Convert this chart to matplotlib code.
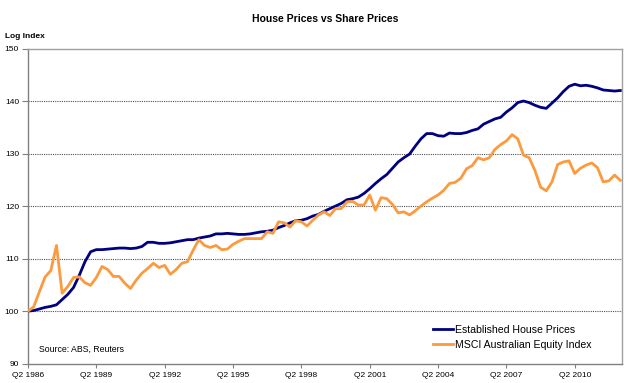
import matplotlib
matplotlib.use("Agg")
import matplotlib.pyplot as plt
import numpy as np

plt.rcParams['font.family'] = ['Liberation Sans', 'DejaVu Sans']

# Quarterly log index, Q2 1986 .. Q2 2012
house_prices = [
    100.0, 100.1, 100.4, 100.7, 100.9, 101.2, 102.2, 103.2, 104.5, 106.8,
    109.4, 111.3, 111.7, 111.7, 111.8, 111.9, 112.0, 112.0, 111.9, 112.0,
    112.3, 113.1, 113.1, 112.9, 112.9, 113.0, 113.2, 113.4, 113.6, 113.6,
    113.9, 114.1, 114.3, 114.7, 114.7, 114.8, 114.7, 114.6, 114.6, 114.7,
    114.9, 115.1, 115.2, 115.4, 115.9, 116.3, 116.8, 117.2, 117.3, 117.6,
    118.1, 118.4, 119.0, 119.5, 120.0, 120.5, 121.2, 121.4, 121.7, 122.4,
    123.3, 124.3, 125.2, 126.0, 127.2, 128.4, 129.2, 129.9, 131.4, 132.8,
    133.8, 133.8, 133.4, 133.3, 133.9, 133.8, 133.8, 134.0, 134.4, 134.7,
    135.6, 136.1, 136.6, 136.9, 137.9, 138.7, 139.7, 140.0, 139.7, 139.2,
    138.8, 138.6, 139.6, 140.6, 141.8, 142.8, 143.2, 142.9, 143.0, 142.8,
    142.5, 142.1, 142.0, 141.9, 142.0,
]
equity_index = [
    100.0, 100.8, 103.7, 106.5, 107.7, 112.5, 103.4, 104.7, 106.4, 106.5,
    105.4, 104.9, 106.4, 108.5, 107.9, 106.6, 106.6, 105.3, 104.3, 105.9,
    107.2, 108.1, 109.1, 108.3, 108.7, 107.0, 107.9, 109.1, 109.4, 111.6,
    113.6, 112.5, 112.1, 112.5, 111.7, 111.8, 112.7, 113.3, 113.8, 113.8,
    113.8, 113.8, 115.1, 114.8, 117.0, 116.8, 116.0, 117.2, 117.0, 116.2,
    117.3, 118.3, 118.9, 118.2, 119.5, 119.5, 120.8, 120.9, 120.2, 120.2,
    122.1, 119.2, 121.6, 121.4, 120.3, 118.7, 118.9, 118.3, 119.1, 120.0,
    120.8, 121.5, 122.1, 123.0, 124.3, 124.5, 125.3, 127.1, 127.7, 129.2,
    128.8, 129.2, 130.8, 131.7, 132.4, 133.6, 132.8, 129.7, 129.2, 126.8,
    123.6, 122.9, 124.6, 127.9, 128.4, 128.6, 126.2, 127.2, 127.8, 128.2,
    127.3, 124.6, 124.8, 125.9, 124.9,
]
tick_labels = ["Q2 1986", "Q2 1989", "Q2 1992", "Q2 1995", "Q2 1998",
               "Q2 2001", "Q2 2004", "Q2 2007", "Q2 2010"]
y_ticks = [90, 100, 110, 120, 130, 140, 150]

W, H = 625, 383
fig = plt.figure(figsize=(W / 100, H / 100), dpi=100)
fig.patch.set_facecolor('white')

ax_left, ax_right, ax_top, ax_bottom = 28, 622, 48.5, 363.6
ax = fig.add_axes([ax_left / W, 1 - ax_bottom / H,
                   (ax_right - ax_left) / W, (ax_bottom - ax_top) / H])

x = np.arange(len(house_prices))
ax.plot(x, house_prices, color='#000080', lw=2.0, solid_joinstyle='round',
        label='Established House Prices', zorder=3)
ax.plot(x, equity_index, color='#FB9A3E', lw=2.0, solid_joinstyle='round',
        label='MSCI Australian Equity Index', zorder=3)

ax.set_xlim(0, 104.3)
ax.set_ylim(90, 150)
ax.set_yticks(y_ticks)
ax.set_xticks(np.arange(len(tick_labels)) * 12)
ax.set_xticklabels(tick_labels)

for yv in y_ticks[1:-1]:
    ax.axhline(yv, color='#505050', lw=0.8, ls=(0, (1, 1)), zorder=1)

for side in ['left', 'bottom']:
    ax.spines[side].set_color('#808080')
    ax.spines[side].set_linewidth(1.0)
for side in ['top', 'right']:
    ax.spines[side].set_color('#a0a0a0')
    ax.spines[side].set_linewidth(1.0)

ax.tick_params(axis='y', direction='out', length=4, width=0.8, color='#808080',
               labelsize=6, pad=2.5)
ax.tick_params(axis='x', direction='out', length=3, width=0.8, color='#808080',
               labelsize=6, pad=3)

fig.text(((ax_left + ax_right) / 2) / W, 1 - 19 / H, 'House Prices vs Share Prices',
         ha='center', va='center', fontsize=7.5, fontweight='bold')
fig.text(5 / W, 1 - 36 / H, 'Log Index', ha='left', va='center',
         fontsize=6, fontweight='bold')

ax.text((39 - ax_left) / (ax_right - ax_left), (ax_bottom - 349) / (ax_bottom - ax_top),
        'Source: ABS, Reuters', transform=ax.transAxes, ha='left', va='center',
        fontsize=6.3)

leg = ax.legend(loc='center left', bbox_to_anchor=(433 / W, 1 - 337.5 / H),
                bbox_transform=fig.transFigure, frameon=False, fontsize=7.6,
                handlelength=1.9, handletextpad=0.15, borderpad=0,
                borderaxespad=0, labelspacing=0.45)

fig.savefig('out.png', dpi=100, facecolor='white')
